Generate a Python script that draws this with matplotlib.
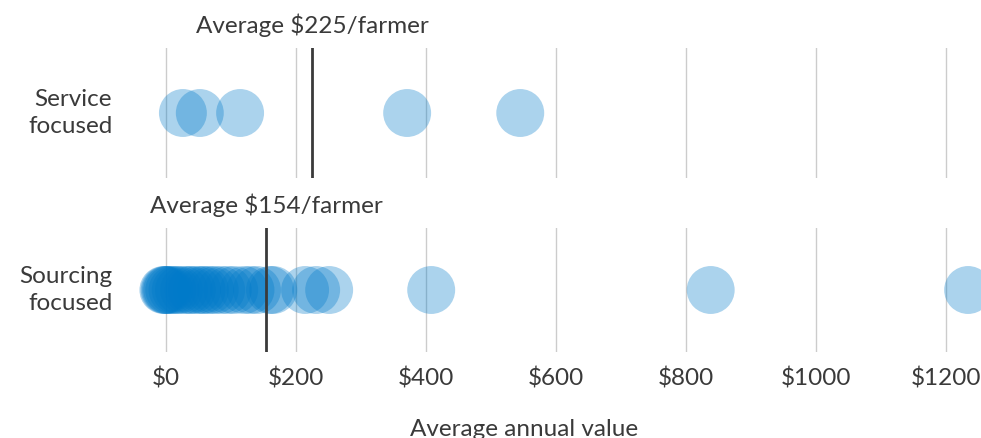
import numpy as np
import matplotlib
matplotlib.use("Agg")
import matplotlib.pyplot as plt

plt.rcParams['font.family'] = ['Lato', 'DejaVu Sans']

# dati (valore annuo medio per azienda)
service_values = [26, 52, 114, 371, 545]
sourcing_values = [-4, -2, 0, 2, 5, 10, 15, 20, 28, 35, 40, 48, 55, 60, 68,
                   75, 85, 95, 105, 120, 130, 140, 160, 165,
                   214, 231, 251, 408, 838, 1234]
row_labels = ["Service\nfocused", "Sourcing\nfocused"]
averages = [225, 154]
avg_labels = ["Average $225/farmer", "Average $154/farmer"]
xticks = [0, 200, 400, 600, 800, 1000, 1200]
xticklabels = ["$0", "$200", "$400", "$600", "$800", "$1000", "$1200"]

W, H = 981, 438
fig = plt.figure(figsize=(W / 100, H / 100), dpi=100)

dot_color = (0.0, 0.48, 0.79)
text_color = "#3a3a3a"
fsize = 17.5
xmin, xmax = (130 - 166) / 0.65, (981 - 166) / 0.65

# posizioni in pixel delle due righe (top, bottom)
rows = [(48, 178), (228, 352)]
series = [service_values, sourcing_values]

for i in range(2):
    top, bottom = rows[i]
    ax = fig.add_axes([130 / W, (H - bottom) / H, (W - 130) / W, (bottom - top) / H])
    ax.set_xlim(xmin, xmax)
    ax.set_ylim(-1, 1)
    for t in xticks:
        ax.axvline(t, color="#cccccc", lw=1, zorder=0)
    vals = np.array(series[i])
    ax.scatter(vals, np.zeros(len(vals)), s=34.5 ** 2, color=dot_color,
               alpha=0.33, edgecolors="none", zorder=2, clip_on=False)
    ax.axvline(averages[i], color=text_color, lw=2, zorder=3)
    ax.annotate(avg_labels[i], (averages[i], 1.0), xytext=(0, 8),
                textcoords="offset points", ha="center", va="bottom",
                fontsize=fsize, color=text_color,
                xycoords=ax.get_xaxis_transform(), annotation_clip=False)
    ax.text(-0.021, 0.5, row_labels[i], ha="right", va="center", fontsize=fsize,
            color=text_color, linespacing=1.35, transform=ax.transAxes)
    for s in ax.spines.values():
        s.set_visible(False)
    ax.set_yticks([])
    ax.tick_params(length=0)
    if i == 1:
        ax.set_xticks(xticks)
        ax.set_xticklabels(xticklabels, fontsize=fsize, color=text_color)
        ax.tick_params(axis="x", pad=11)
    else:
        ax.set_xticks([])

fig.text(524 / W, 1 - 429 / H, "Average annual value", ha="center", va="center",
         fontsize=fsize, color=text_color)

fig.savefig("out.png", dpi=100)
